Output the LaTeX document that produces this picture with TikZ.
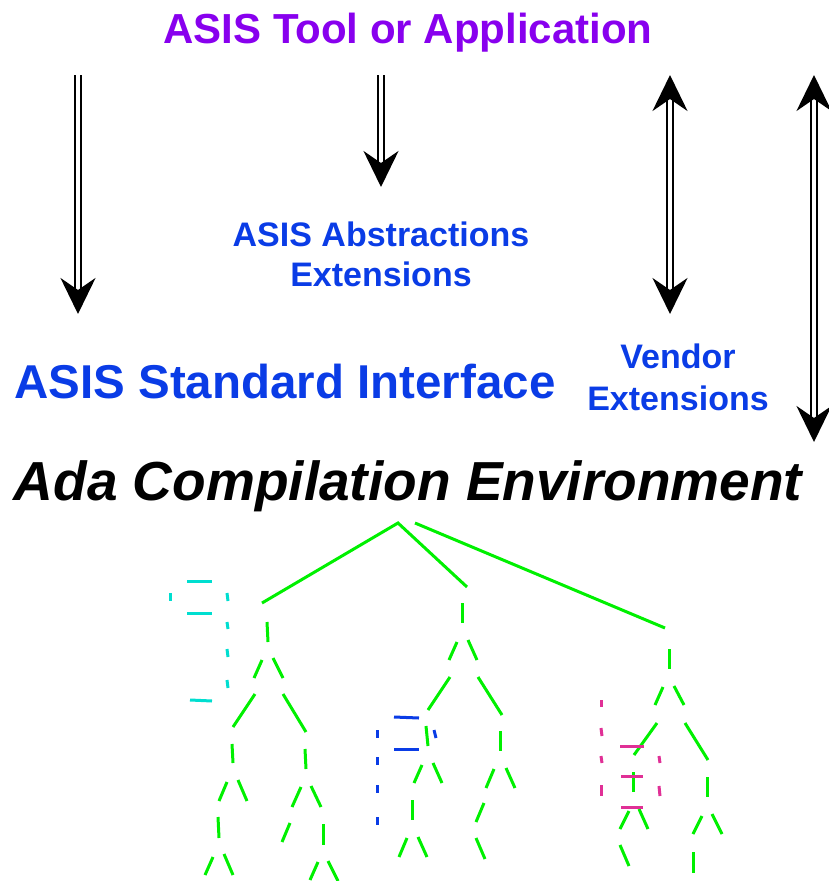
\documentclass[tikz,border=0pt]{standalone}
\usepackage{fontspec}
\setmainfont{Liberation Sans}
\usetikzlibrary{arrows.meta}

\definecolor{asispurple}{RGB}{136,0,238}
\definecolor{asisblue}{RGB}{10,60,230}
\definecolor{treegreen}{RGB}{0,240,0}
\definecolor{treecyan}{RGB}{0,222,208}
\definecolor{treemagenta}{RGB}{224,48,150}

\begin{document}
\begin{tikzpicture}[x=1pt,y=-1pt]
  \tikzset{dbl/.style={draw=black, double=white, double distance=3.5pt, line width=2.5pt},
           headdown/.style={-{Stealth[length=36pt,width=35pt,inset=12pt]}},
           headboth/.style={{Stealth[length=36pt,width=35pt,inset=12pt]}-{Stealth[length=36pt,width=35pt,inset=12pt]}},
           label/.style={anchor=base, font=\bfseries\fontsize{34}{40}\selectfont, text=asisblue, align=center},
           twig/.style={line width=3pt}}
  \useasboundingbox (0,0) rectangle (828,881);
  % texts
  \node[anchor=base, font=\bfseries\fontsize{42}{50}\selectfont, text=asispurple] (tool) at (408,43) {ASIS Tool or Application};
  \node[anchor=base, font=\bfseries\fontsize{47.5}{56}\selectfont, text=asisblue] (std) at (285,398) {ASIS Standard Interface};
  \node[anchor=base, font=\bfseries\itshape\fontsize{55}{62}\selectfont] (ace) at (408,500) {Ada Compilation Environment};
  \node[label] (absext) at (381,286) {ASIS Abstractions\\Extensions};
  \node[label, font=\bfseries\fontsize{34}{42}\selectfont] (vendext) at (678,410) {Vendor\\Extensions};
  % arrows
  \coordinate (l0) at (78,75);  \coordinate (l1) at (78,314);
  \coordinate (m0) at (381,75); \coordinate (m1) at (381,187);
  \coordinate (v0) at (670,75); \coordinate (v1) at (670,314);
  \coordinate (r0) at (814,75); \coordinate (r1) at (814,442);
  \draw[dbl, headdown] (l0) -- (l1);
  \draw[dbl, headdown] (m0) -- (m1);
  \draw[dbl, headboth] (v0) -- (v1);
  \draw[dbl, headboth] (r0) -- (r1);
  % tree
  \draw[twig, treegreen] (262,603) -- (398,523) -- (467,587);
  \draw[twig, treegreen] (415,523) -- (665,628);
  \foreach \xa/\ya/\xb/\yb in {267/622/268/642, 262/660/254/678, 273/658/283/678, 255/694/233/727,
      283/694/306/732, 232/744/233/763, 227/782/219/801, 238/780/247/801, 218/817/219/838,
      213/857/205/875, 224/854/233/875, 305/749/306/769, 301/787/292/807, 311/786/321/807,
      290/823/282/842, 323/824/323/845, 318/862/310/880, 328/861/338/881,
      462/603/462/623, 457/642/449/660, 468/640/477/660, 450/677/428/710, 478/677/502/715,
      426/726/428/746, 422/765/414/783, 433/763/442/783, 412/800/412/820, 407/838/399/857,
      418/837/427/857, 500/731/500/751, 494/769/486/788, 506/768/515/788, 484/803/476/822,
      476/838/485/859,
      669/649/669/669, 663/687/655/705, 674/686/684/705, 657/723/634/755, 685/723/708/760,
      633/772/633/792, 629/811/620/829, 639/809/648/829, 620/845/629/866, 707/777/707/797,
      702/816/693/834, 712/814/722/834, 693/852/693/873}
    \draw[twig, treegreen] (\xa,\ya) -- (\xb,\yb);
  \foreach \xa/\ya/\xb/\yb in {187/581/212/581, 170/593/170/601, 227/593/228/601, 187/613/212/613,
      227/622/228/629, 227/649/228/657, 227/680/228/688, 190/700/212/701}
    \draw[twig, treecyan] (\xa,\ya) -- (\xb,\yb);
  \foreach \xa/\ya/\xb/\yb in {394/717/419/718, 434/730/436/738, 377/730/377/738, 394/749/419/749,
      377/757/377/765, 377/785/377/793, 377/817/377/825}
    \draw[twig, asisblue] (\xa,\ya) -- (\xb,\yb);
  \foreach \xa/\ya/\xb/\yb in {601/700/601/707, 601/728/602/736, 601/756/602/763, 601/785/601/796,
      620/746/644/746, 659/756/660/763, 621/776/643/776, 659/786/660/796, 621/807/643/807}
    \draw[twig, treemagenta] (\xa,\ya) -- (\xb,\yb);
\end{tikzpicture}
\end{document}
